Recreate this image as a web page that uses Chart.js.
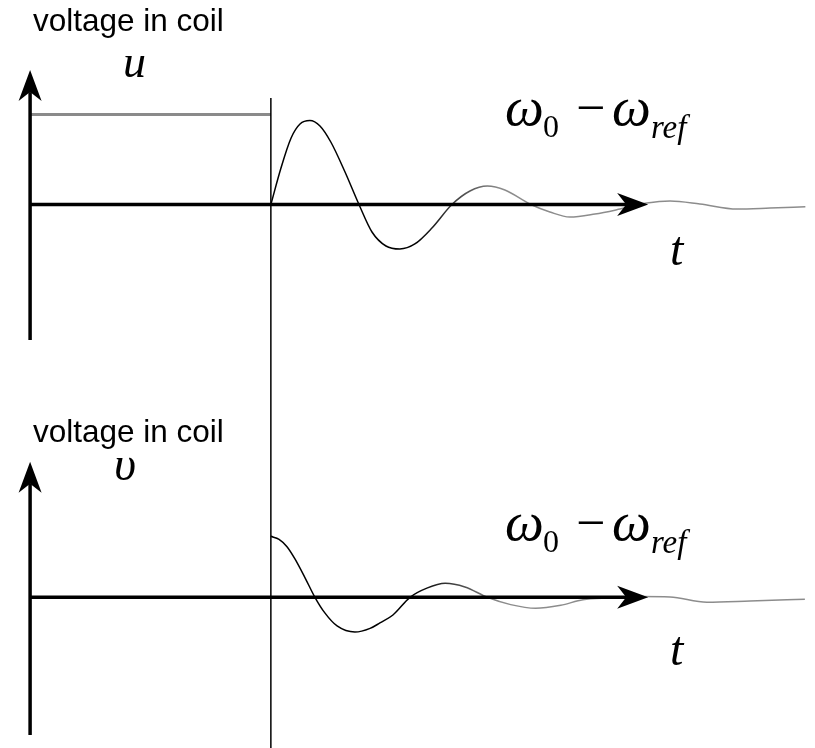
<!DOCTYPE html>
<html>
<head>
<meta charset="utf-8">
<script src="https://cdn.jsdelivr.net/npm/chart.js@4.4.1/dist/chart.umd.min.js"></script>
<style>
  html, body { margin: 0; padding: 0; background: #fff; }
  #wrap { width: 815px; height: 748px; }
</style>
</head>
<body>
<div id="wrap"><canvas id="coil" width="815" height="748"></canvas></div>
<script>
// time in arbitrary units, the coil is switched at t = 0
const tU = [0, 0.42, 0.84, 1.21, 1.62, 2.04, 2.49, 3.08, 3.66, 4.2, 4.78, 5.36, 5.98, 6.69, 7.52,
  8.27, 8.99, 9.72, 10.8, 11.59, 12.42, 13.46, 14.5, 15.62, 16.58, 17.82, 19.36, 20.73, 22.2];
const u = [0, 0.435, 0.792, 0.958, 1.0, 0.935, 0.744, 0.387, 0, -0.327, -0.494, -0.53, -0.47, -0.28, 0,
  0.161, 0.22, 0.173, 0, -0.089, -0.149, -0.113, -0.054, 0.018, 0.042, 0.006, -0.054, -0.042, -0.026];

const tV = [0, 0.34, 0.67, 1.0, 1.42, 1.83, 2.25, 2.75, 3.49, 4.12, 4.53, 5.07, 5.78, 6.48, 7.24, 8.06,
  8.99, 9.96, 11.0, 12.04, 12.96, 14.08, 15.33, 16.58, 18.11, 19.9, 22.18];
const v = [1.0, 0.95, 0.83, 0.63, 0.32, 0, -0.26, -0.47, -0.57, -0.51, -0.42, -0.29, 0, 0.15, 0.23, 0.17,
  0, -0.12, -0.18, -0.13, -0.04, -0.01, 0.013, 0.005, -0.08, -0.06, -0.03];

// applied voltage before switching
const stepT = [-10, 0];
const stepU = [1.07, 1.07];

// axis extents
const axisT = [-10, 15.67];
const axisU = [-1.613, 1.6];
const axisV = [-2.257, 2.223];
const switchTop = 1.268;

function pts(xs, ys) {
  return xs.map((x, i) => ({ x: x, y: ys[i] }));
}

// black at the start of the swing, fading to grey
function fade(context) {
  const chart = context.chart;
  if (!chart.chartArea) return '#000';
  const x = chart.scales.x;
  const g = chart.ctx.createLinearGradient(x.getPixelForValue(6), 0, x.getPixelForValue(9.5), 0);
  g.addColorStop(0, '#000');
  g.addColorStop(1, '#8c8c8c');
  return g;
}

function arrow(ctx, x0, y0, x1, y1) {
  const a = Math.atan2(y1 - y0, x1 - x0);
  const len = 31, half = 11.5, notch = 22;
  ctx.beginPath();
  ctx.moveTo(x0, y0);
  ctx.lineTo(x1 - Math.cos(a) * notch, y1 - Math.sin(a) * notch);
  ctx.stroke();
  ctx.save();
  ctx.translate(x1, y1);
  ctx.rotate(a);
  ctx.beginPath();
  ctx.moveTo(0, 0);
  ctx.lineTo(-len, -half);
  ctx.lineTo(-notch, 0);
  ctx.lineTo(-len, half);
  ctx.closePath();
  ctx.fill();
  ctx.restore();
}

function label(ctx, s, x, y, font) {
  ctx.font = font;
  ctx.fillText(s, x, y);
}

// omega_0 - omega_ref, written piece by piece
function omegaLabel(ctx, base) {
  const big = 'italic 55px "Liberation Serif"';
  label(ctx, 'ω', 505, base, big);
  label(ctx, '0', 543, base + 12, '32px "Liberation Serif"');
  label(ctx, '−', 576, base, '52px "Liberation Serif"');
  label(ctx, 'ω', 612, base, big);
  label(ctx, 'ref', 651, base + 13, 'italic 33px "Liberation Serif"');
}

const axesPlugin = {
  id: 'coilAxes',
  afterDatasetsDraw(chart) {
    const { ctx, scales } = chart;
    const x = scales.x;
    ctx.save();
    ctx.strokeStyle = '#000';
    ctx.fillStyle = '#000';

    // switching instant, runs through both panels
    ctx.lineWidth = 1.5;
    ctx.beginPath();
    ctx.moveTo(x.getPixelForValue(0), scales.yU.getPixelForValue(switchTop));
    ctx.lineTo(x.getPixelForValue(0), chart.height);
    ctx.stroke();

    ctx.lineWidth = 3.5;
    [['yU', axisU], ['yV', axisV]].forEach(([id, ext]) => {
      const y = scales[id];
      const x0 = x.getPixelForValue(axisT[0]);
      arrow(ctx, x0, y.getPixelForValue(ext[0]), x0, y.getPixelForValue(ext[1]));
      arrow(ctx, x0, y.getPixelForValue(0), x.getPixelForValue(axisT[1]), y.getPixelForValue(0));
    });
    ctx.restore();
  },
  afterDraw(chart) {
    const ctx = chart.ctx;
    ctx.save();
    ctx.fillStyle = '#000';
    ctx.textBaseline = 'alphabetic';
    label(ctx, 'voltage in coil', 33, 31, '31.5px "Liberation Sans"');
    label(ctx, 'u', 123, 77, 'italic 46px "Liberation Serif"');
    omegaLabel(ctx, 125);
    label(ctx, 't', 670, 265, 'italic 48px "Liberation Serif"');

    label(ctx, 'voltage in coil', 33, 442, '31.5px "Liberation Sans"');
    label(ctx, 'υ', 114, 480, 'italic 48px "Liberation Serif"');
    omegaLabel(ctx, 540);
    label(ctx, 't', 670, 665, 'italic 48px "Liberation Serif"');
    ctx.restore();
  }
};

new Chart(document.getElementById('coil'), {
  type: 'scatter',
  data: {
    datasets: [
      {
        data: pts(stepT, stepU),
        yAxisID: 'yU',
        showLine: true,
        borderColor: '#8a8a8a',
        borderWidth: 3,
        pointRadius: 0
      },
      {
        data: pts(tU, u),
        yAxisID: 'yU',
        showLine: true,
        borderColor: fade,
        borderWidth: 1.5,
        cubicInterpolationMode: 'monotone',
        pointRadius: 0
      },
      {
        data: pts(tV, v),
        yAxisID: 'yV',
        showLine: true,
        borderColor: fade,
        borderWidth: 1.5,
        cubicInterpolationMode: 'monotone',
        pointRadius: 0
      }
    ]
  },
  options: {
    responsive: false,
    animation: false,
    devicePixelRatio: 1,
    layout: { padding: 0 },
    plugins: { legend: { display: false }, tooltip: { enabled: false } },
    scales: {
      x: { type: 'linear', min: -11.25, max: 22.6, display: false },
      yU: { type: 'linear', min: -6.47, max: 2.4345, display: false },
      yV: { type: 'linear', min: -2.4705, max: 9.792, display: false }
    }
  },
  plugins: [axesPlugin]
});
</script>
</body>
</html>
